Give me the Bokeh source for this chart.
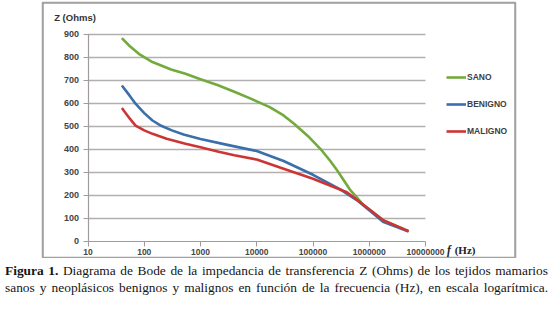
from bokeh.plotting import figure
from bokeh.models import FixedTicker, Label, Legend, LegendItem, Div, BoxAnnotation
from bokeh.layouts import column
from bokeh.embed import file_html
from bokeh.resources import INLINE

# Data
sano_f = [40, 55, 80, 140, 300, 540, 1000, 2000, 4200, 8000, 17000, 30000, 46000, 80000, 135000, 200000, 270000, 465000, 800000, 1800000, 5000000]
sano_z = [884, 850, 816, 780, 748, 729, 705, 680, 649, 620, 584, 548, 512, 460, 403, 352, 309, 222, 157, 91, 45]

benigno_f = [40, 55, 70, 100, 140, 200, 310, 500, 1000, 3000, 10000, 30000, 100000, 300000, 600000, 1000000, 1800000, 5000000]
benigno_z = [678, 634, 599, 558, 526, 503, 483, 465, 446, 420, 393, 350, 290, 228, 180, 136, 84, 43]

maligno_f = [40, 55, 70, 100, 140, 250, 540, 1000, 2100, 4000, 10000, 30000, 100000, 400000, 900000, 1800000, 5000000]
maligno_z = [580, 535, 504, 483, 468, 447, 425, 410, 390, 375, 356, 316, 273, 214, 149, 91, 45]

x_ticks = [10, 100, 1000, 10000, 100000, 1000000, 10000000]
x_tick_labels = ["10", "100", "1000", "10000", "100000", "1000000", "10000000"]
y_ticks = [0, 100, 200, 300, 400, 500, 600, 700, 800, 900]

series_names = ["SANO", "BENIGNO", "MALIGNO"]
colors = ["#72aa3c", "#3a6fab", "#cd3535"]

# frame = the outer chart box; axes sit inside it at fixed locations
p = figure(width=537, height=258, x_axis_type="log",
           x_range=(10 ** 0.191, 10 ** 8.6), y_range=(-74, 1039),
           output_backend="svg", toolbar_location=None,
           min_border_left=42, min_border_right=22, min_border_top=2, min_border_bottom=0)
p.outline_line_color = "#a5a1a1"
p.outline_line_width = 1.5
p.outline_line_alpha = 1.0
p.background_fill_color = "white"
p.border_fill_color = "white"
p.xgrid.visible = False
p.ygrid.visible = False

# outer chart box (spans the whole frame)
p.add_layout(BoxAnnotation(fill_alpha=0, line_color="#a5a1a1", line_width=2.5, line_alpha=1.0))

# horizontal grid lines spanning the axis extent
grid_y = y_ticks[1:]
p.segment(x0=[x_ticks[0]] * len(grid_y), x1=[x_ticks[-1]] * len(grid_y), y0=grid_y, y1=grid_y,
          line_color="#b3afaf", line_width=1.5)

p.xaxis.fixed_location = 0
p.xaxis.bounds = (x_ticks[0], x_ticks[-1])
p.yaxis.fixed_location = x_ticks[0]
p.yaxis.bounds = (y_ticks[0], y_ticks[-1])
p.xaxis.ticker = FixedTicker(ticks=x_ticks)
p.xaxis.major_label_overrides = {t: l for t, l in zip(x_ticks, x_tick_labels)}
p.yaxis.ticker = FixedTicker(ticks=y_ticks)
for ax in (p.xaxis, p.yaxis):
    ax.axis_line_color = "#a09c9c"
    ax.axis_line_width = 1.2
    ax.major_tick_line_color = "#a09c9c"
    ax.major_tick_out = 5
    ax.major_tick_in = 0
    ax.minor_tick_line_color = None
    ax.major_label_text_font = "Liberation Sans"
    ax.major_label_text_font_style = "bold"
    ax.major_label_text_color = "#444444"
p.xaxis.major_label_text_font_size = "8.5px"
p.yaxis.major_label_text_font_size = "9px"
p.xaxis.major_label_standoff = 3
p.yaxis.major_label_standoff = 4

renderers = []
for f, z, c in zip([sano_f, benigno_f, maligno_f], [sano_z, benigno_z, maligno_z], colors):
    r = p.line(f, z, line_color=c, line_width=2.6, line_join="round")
    renderers.append(r)

legend = Legend(items=[LegendItem(label=n, renderers=[r]) for n, r in zip(series_names, renderers)],
                location=(404, 121), orientation="vertical")
legend.border_line_color = None
legend.background_fill_alpha = 0
legend.padding = 0
legend.margin = 0
legend.spacing = 15
legend.glyph_width = 20
legend.glyph_height = 12
legend.label_height = 12
legend.label_standoff = 1
legend.label_text_font = "Liberation Sans"
legend.label_text_font_style = "bold"
legend.label_text_font_size = "8.5px"
legend.label_text_color = "#404040"
p.add_layout(legend, "center")

p.add_layout(Label(x=2.5, y=974, text="Z (Ohms)", text_font="Liberation Sans",
                   text_font_style="bold", text_font_size="9.5px", text_color="#333333",
                   text_baseline="middle", text_align="left"))
p.add_layout(Label(x=2.4e7, y=-37, text="f", text_font="Liberation Serif",
                   text_font_style="bold italic", text_font_size="11.5px", text_color="#222222",
                   text_baseline="middle", text_align="left"))
p.add_layout(Label(x=3.3e7, y=-37, text="(Hz)", text_font="Liberation Serif",
                   text_font_style="bold", text_font_size="11px", text_color="#222222",
                   text_baseline="middle", text_align="left"))

line_style = "text-align: justify; text-align-last: justify; width: 543px;"
caption = Div(text=('<div style="' + line_style + '"><b>Figura 1.</b> Diagrama de Bode de la impedancia de transferencia Z (Ohms) de los tejidos mamarios</div>'
                    '<div style="' + line_style + '">sanos y neopl\u00e1sicos benignos y malignos en funci\u00f3n de la frecuencia (Hz), en escala logar\u00edtmica.</div>'),
              width=548, margin=0,
              styles={"font-family": "'Liberation Serif', serif", "font-size": "13.4px",
                      "line-height": "17px", "color": "#151515",
                      "padding-top": "4px", "padding-left": "5px"})

layout = column(p, caption, spacing=0)

open("out.html", "w").write(file_html(layout, INLINE))
